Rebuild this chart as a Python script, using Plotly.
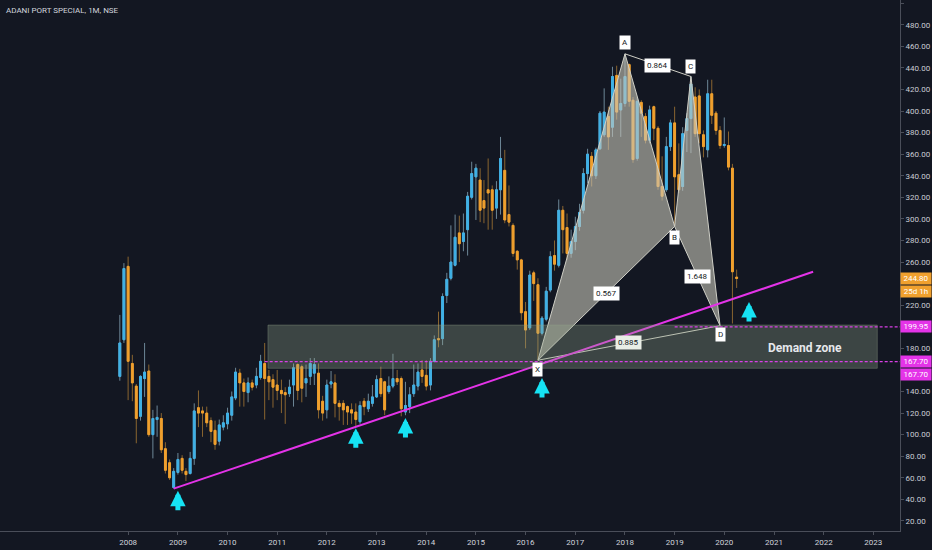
"""
ADANI PORT SPECIAL, 1M, NSE - monthly candles with XABCD pattern,
rising trendline and demand zone (TradingView dark look).
"""

import pandas as pd
import plotly.graph_objects as go

# ---------- data ----------
months = pd.date_range("2007-11-01", "2020-04-01", freq="MS")

opens = [
    154, 188,
    256, 166, 145, 117, 152, 159, 100, 114, 115, 87, 74, 51,
    65, 78, 66, 64, 78, 125, 122, 120, 113, 104, 94, 107,
    110, 118, 134, 157, 148, 139, 148, 146, 153, 166, 154, 151,
    146, 141, 139, 138, 146, 165, 163, 148, 154, 157, 157, 131,
    123, 147, 148, 129, 129, 126, 123, 121, 112, 131, 124, 129,
    135, 152, 149, 140, 145, 152, 152, 121, 126, 138, 145, 160,
    155, 146, 168, 189, 189, 229, 245, 257, 287, 279, 290, 320,
    339, 336, 317, 327, 327, 310, 327, 345, 304, 294, 270, 262,
    214, 199, 250, 239, 194, 207, 234, 266, 257, 308, 292, 268,
    279, 293, 308, 342, 358, 340, 365, 378, 395, 385, 433, 401,
    407, 443, 410, 356, 408, 395, 373, 404, 384, 330, 327, 367,
    389, 341, 330, 382, 393, 413, 414, 378, 364, 416, 398, 382,
    368, 368, 347, 246,
]
highs = [
    211, 259,
    265, 174, 147, 155, 185, 165, 123, 127, 120, 93, 77, 69,
    83, 81, 69, 84, 129, 141, 126, 126, 116, 113, 114, 118,
    125, 140, 162, 161, 152, 153, 151, 162, 174, 185, 160, 156,
    160, 151, 144, 151, 166, 166, 165, 165, 171, 171, 166, 136,
    151, 159, 156, 132, 132, 127, 129, 129, 131, 134, 138, 146,
    155, 163, 150, 154, 175, 160, 154, 149, 144, 165, 166, 169,
    169, 171, 192, 214, 231, 250, 294, 304, 303, 305, 325, 353,
    351, 347, 336, 356, 331, 335, 376, 364, 331, 296, 271, 263,
    223, 252, 252, 245, 210, 237, 270, 280, 318, 312, 305, 290,
    302, 314, 347, 365, 362, 366, 400, 421, 404, 441, 442, 430,
    453, 444, 413, 413, 410, 398, 405, 405, 386, 358, 376, 392,
    404, 370, 385, 398, 432, 422, 420, 382, 429, 429, 400, 386,
    394, 381, 351, 253,
]
lows = [
    150, 185,
    132, 131, 92, 113, 135, 98, 78, 98, 83, 64, 58, 50,
    63, 64, 57, 63, 72, 107, 98, 107, 93, 86, 90, 104,
    105, 113, 132, 126, 126, 130, 141, 143, 151, 114, 132, 125,
    132, 120, 110, 135, 126, 132, 130, 135, 146, 146, 115, 113,
    115, 143, 116, 113, 109, 109, 110, 107, 110, 118, 121, 126,
    134, 135, 118, 138, 143, 146, 117, 118, 120, 135, 141, 148,
    141, 141, 167, 181, 183, 222, 243, 256, 260, 270, 266, 318,
    299, 297, 296, 290, 290, 300, 304, 296, 293, 265, 253, 206,
    180, 197, 224, 169, 192, 205, 232, 252, 255, 268, 262, 264,
    271, 289, 305, 333, 330, 337, 364, 376, 364, 376, 392, 376,
    404, 404, 352, 354, 376, 370, 370, 373, 327, 317, 325, 363,
    293, 324, 326, 362, 361, 376, 370, 357, 357, 388, 378, 365,
    366, 345, 203, 236,
]
closes = [
    185, 254,
    168, 148, 115, 154, 158, 100, 115, 116, 86, 67, 60, 66,
    77, 67, 63, 78, 122, 120, 120, 111, 103, 91, 109, 111,
    120, 135, 158, 148, 140, 148, 144, 154, 168, 152, 149, 144,
    141, 138, 137, 144, 162, 141, 143, 152, 166, 165, 123, 120,
    146, 149, 129, 126, 123, 121, 120, 114, 127, 126, 131, 135,
    151, 138, 123, 145, 152, 149, 124, 127, 137, 146, 158, 154,
    145, 168, 188, 188, 228, 244, 260, 283, 277, 287, 321, 342,
    347, 308, 310, 324, 308, 327, 356, 299, 297, 268, 262, 213,
    197, 248, 240, 194, 208, 233, 265, 258, 308, 290, 268, 279,
    293, 306, 342, 360, 340, 364, 398, 399, 376, 432, 399, 407,
    432, 409, 355, 409, 398, 373, 401, 384, 330, 321, 367, 389,
    339, 327, 379, 393, 425, 379, 379, 367, 416, 396, 382, 368,
    369, 348, 251, 244.80,
]

# XABCD harmonic pattern
pattern_names = ["X", "A", "B", "C", "D"]
pattern_dates = ["2016-04-01", "2018-01-01", "2019-01-01", "2019-05-01", "2019-12-01"]
pattern_prices = [169, 453, 293, 432, 201]
ratio_labels = ["0.567", "0.864", "1.648", "0.885"]
ratio_legs = [("X", "B"), ("A", "C"), ("B", "D"), ("X", "D")]

# rising support line
trend_dates = ["2008-12-01", "2021-10-15"]
trend_prices = [50, 251]

# demand zone and horizontal levels
zone_dates = ["2010-10-25", "2023-01-30"]
zone_prices = [161.5, 201.6]
level_prices = [199.95, 167.70]
level_starts = ["2019-01-01", "2010-10-01"]

# cyan "bounce" arrows (tip positions)
arrow_dates = ["2009-01-01", "2012-08-01", "2013-08-01", "2016-05-01", "2020-07-01"]
arrow_prices = [48, 106, 115.5, 152.5, 223]

last_price = 244.80
countdown = "25d 1h"
years = list(range(2008, 2024))
# price-scale labels that stay visible (the others sit under the tags)
price_ticks = [20, 40, 60, 80, 100, 120, 140, 180, 220, 260, 280, 300, 320,
               340, 360, 380, 400, 420, 440, 460, 480, 500]

# ---------- style ----------
BG = "#131722"
UP = "#3fb1e6"
DOWN = "#f0a02e"
UP_WICK = "#6d8797"
DOWN_WICK = "#8a6530"
MAGENTA = "#e433e8"
CYAN = "#16e3f4"
AXIS = "#4a4e59"
TXT = "#c9ccd4"
FONT = "Roboto"
X_RANGE = ["2005-06-03", "2023-07-16"]

fig = go.Figure()

# wicks (full range, muted colours)
fig.add_trace(go.Candlestick(
    x=months, open=opens, high=highs, low=lows, close=closes,
    increasing=dict(line=dict(color=UP_WICK, width=1), fillcolor=UP_WICK),
    decreasing=dict(line=dict(color=DOWN_WICK, width=1), fillcolor=DOWN_WICK),
    whiskerwidth=0, showlegend=False, hoverinfo="skip",
))
# bodies on top (bright colours)
body_hi = [max(o, c) for o, c in zip(opens, closes)]
body_lo = [min(o, c) for o, c in zip(opens, closes)]
fig.add_trace(go.Candlestick(
    x=months, open=opens, high=body_hi, low=body_lo, close=closes,
    increasing=dict(line=dict(color=UP, width=1), fillcolor=UP),
    decreasing=dict(line=dict(color=DOWN, width=1), fillcolor=DOWN),
    whiskerwidth=0, showlegend=False, name="ADANI PORT",
))

# pattern triangles XAB and BCD
pt = {n: (pd.Timestamp(d), p) for n, d, p in zip(pattern_names, pattern_dates, pattern_prices)}
for tri in (["X", "A", "B", "X"], ["B", "C", "D", "B"]):
    fig.add_trace(go.Scatter(
        x=[pt[n][0] for n in tri], y=[pt[n][1] for n in tri],
        mode="lines", fill="toself", fillcolor="rgba(200,198,185,0.6)",
        line=dict(color="#cfcfc6", width=1), hoverinfo="skip", showlegend=False,
    ))
# ratio legs A-C and X-D
for a, b in ratio_legs[1::2]:
    fig.add_trace(go.Scatter(
        x=[pt[a][0], pt[b][0]], y=[pt[a][1], pt[b][1]], mode="lines",
        line=dict(color="#cfcfc6", width=1), hoverinfo="skip", showlegend=False,
    ))

# trendline
fig.add_trace(go.Scatter(
    x=trend_dates, y=trend_prices, mode="lines",
    line=dict(color=MAGENTA, width=2), hoverinfo="skip", showlegend=False,
))

# demand zone + dotted levels
fig.add_shape(type="rect", xref="x", yref="y",
              x0=zone_dates[0], x1=zone_dates[1], y0=zone_prices[0], y1=zone_prices[1],
              fillcolor="rgba(150,168,140,0.32)", line=dict(color="rgba(150,165,140,0.35)", width=1),
              layer="above")
for lv, start in zip(level_prices, level_starts):
    fig.add_shape(type="line", xref="x", yref="y", x0=start, x1=X_RANGE[1], y0=lv, y1=lv,
                  line=dict(color="#d93fe6", width=1.2, dash="3px,2px"), layer="above")

annotations = []

# point labels
shift = {"X": -9, "A": 11, "B": -11, "C": 10, "D": -9}
for n in pattern_names:
    annotations.append(dict(
        x=pt[n][0], y=pt[n][1], xref="x", yref="y", text=n, showarrow=False,
        yshift=shift[n], bgcolor="#ffffff", borderpad=2,
        font=dict(family=FONT, size=8, color="#131722"),
    ))
# ratio labels at leg midpoints
for txt, (a, b) in zip(ratio_labels, ratio_legs):
    mx = pt[a][0] + (pt[b][0] - pt[a][0]) / 2
    my = (pt[a][1] + pt[b][1]) / 2
    annotations.append(dict(
        x=mx, y=my, xref="x", yref="y", text=txt, showarrow=False,
        bgcolor="#e9eee6" if txt == "0.885" else "#ffffff", borderpad=2,
        font=dict(family=FONT, size=8, color="#131722"),
    ))

# bounce arrows
for d, p in zip(arrow_dates, arrow_prices):
    annotations.append(dict(
        x=d, y=p, xref="x", yref="y", ax=0, ay=21, text="", showarrow=True,
        arrowhead=2, arrowsize=0.62, arrowwidth=5, arrowcolor=CYAN,
    ))

# zone text
annotations.append(dict(
    x="2021-08-20", y=180, xref="x", yref="y", text="<b>Demand zone</b>", showarrow=False,
    font=dict(family=FONT, size=12, color="#e6e8ec"),
))

# title
annotations.append(dict(
    x=0, y=1, xref="paper", yref="paper", xanchor="left", yanchor="top",
    xshift=4, yshift=-4, text="ADANI PORT SPECIAL, 1M, NSE", showarrow=False,
    font=dict(family=FONT, size=8, color="#d1d4dc"),
))

# price-scale tags
tags = [
    (level_prices[0], "199.95", MAGENTA, 0),
    (level_prices[1], "167.70", MAGENTA, 0),
    (level_prices[1], "167.70", MAGENTA, -13),
    (last_price, f"{last_price:.2f}", "#f0a02e", 0),
    (last_price, countdown, "#f0a02e", -13),
]
for val, txt, col, ys in tags:
    annotations.append(dict(
        x=1, y=val, xref="paper", yref="y", xanchor="left", text=txt, showarrow=False,
        yshift=ys, bgcolor=col, borderpad=1, width=28,
        font=dict(family=FONT, size=8, color="#ffffff"),
    ))

fig.update_layout(
    width=932, height=550,
    paper_bgcolor=BG, plot_bgcolor=BG,
    margin=dict(l=0, r=32, t=0, b=19),
    showlegend=False,
    annotations=annotations,
    font=dict(family=FONT, color=TXT),
    xaxis=dict(
        type="date", range=X_RANGE, rangeslider=dict(visible=False),
        tickvals=[f"{y}-01-01" for y in years], ticktext=[str(y) for y in years],
        ticks="outside", ticklen=3, tickcolor=AXIS,
        showline=True, linecolor=AXIS, linewidth=1,
        showgrid=False, zeroline=False, automargin=False,
        tickfont=dict(family=FONT, size=8, color="#d1d4dc"),
    ),
    yaxis=dict(
        side="right", range=[10.7, 502.9],
        tickvals=price_ticks, ticktext=[f"{v:.2f}" for v in price_ticks],
        ticks="outside", ticklen=3, tickcolor=AXIS,
        showline=True, linecolor=AXIS, linewidth=1,
        showgrid=False, zeroline=False, automargin=False,
        tickfont=dict(family=FONT, size=8, color=TXT),
    ),
)

# page body has a default 8px margin; remove it so the 932x550 figure fills the window
fig.write_html("out.html", config={"displayModeBar": False},
               post_script="document.body.style.margin='0';")
